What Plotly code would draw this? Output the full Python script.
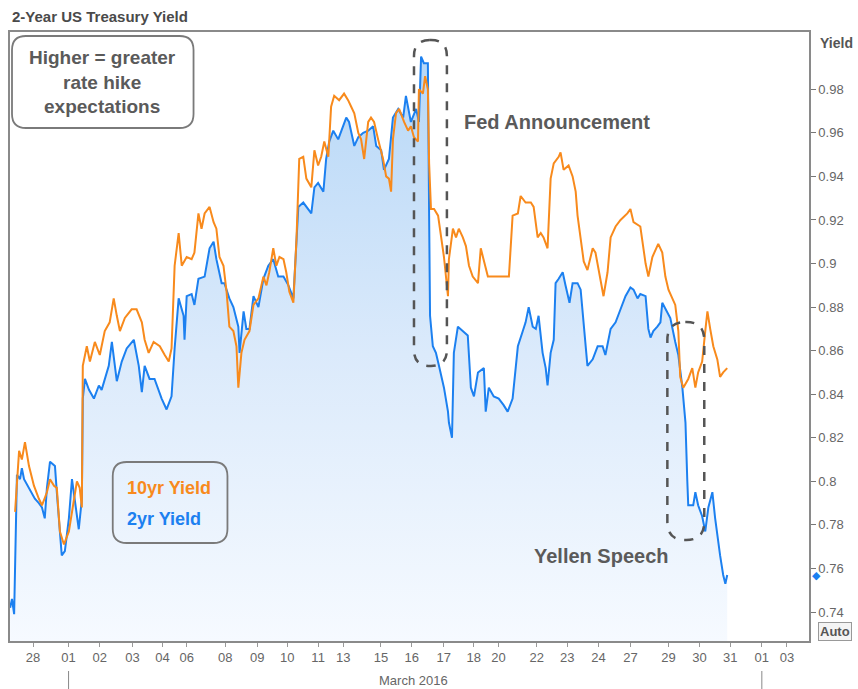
import plotly.graph_objects as go

# ---------------- data (x in trading-day units, 0 = 01 March 2016) ----------------
x_2yr = [-1.89, -1.83, -1.76, -1.67, -1.57, -1.51, -1.44, -1.28, -1.09, -0.96, -0.86, -0.77, -0.70, -0.60, -0.44,
         -0.38, -0.28, -0.22, -0.12, 0.01, 0.11, 0.20, 0.33, 0.43, 0.46, 0.53, 0.66, 0.82, 0.98, 1.07, 1.30, 1.40,
         1.56, 1.72, 1.88, 2.11, 2.27, 2.37, 2.46, 2.62, 2.78, 3.01, 3.17, 3.33, 3.43, 3.56, 3.72, 3.75, 3.82, 3.98,
         4.07, 4.20, 4.40, 4.56, 4.69, 4.78, 4.95, 5.04, 5.20, 5.33, 5.49, 5.53, 5.66, 5.75, 5.85, 5.98, 6.14, 6.30,
         6.46, 6.62, 6.78, 6.95, 7.11, 7.27, 7.37, 7.43, 7.59, 7.69, 7.85, 7.95, 8.07, 8.24, 8.33, 8.43, 8.56, 8.72,
         8.88, 8.98, 9.07, 9.24, 9.37, 9.53, 9.69, 9.85, 9.95, 10.11, 10.20, 10.36, 10.49, 10.66, 10.82, 10.91, 11.07,
         11.24, 11.33, 11.40, 11.49, 11.62, 11.66, 11.69, 11.78, 11.88, 11.98, 12.14, 12.27, 12.30, 12.40, 12.46,
         12.59, 12.75, 12.91, 13.01, 13.11, 13.24, 13.43, 13.49, 13.59, 13.75, 13.91, 14.07, 14.20, 14.36, 14.53,
         14.69, 14.78, 14.88, 15.01, 15.11, 15.20, 15.33, 15.43, 15.49, 15.59, 15.69, 15.75, 15.85, 15.98, 16.07,
         16.20, 16.30, 16.46, 16.56, 16.66, 16.78, 16.95, 17.11, 17.27, 17.36, 17.53, 17.69, 17.85, 18.01, 18.17,
         18.27, 18.40, 18.49, 18.66, 18.75, 18.82, 18.91, 19.04, 19.14, 19.20, 19.30, 19.46, 19.62, 19.72, 19.85,
         19.95, 20.01, 20.04, 20.20, 20.27, 20.36, 20.49, 20.59, 20.69, 20.82, 20.91, 21.07, 21.17, 21.24, 21.30]
y_2yr = [0.742, 0.746, 0.739, 0.803, 0.801, 0.806, 0.801, 0.797, 0.792, 0.790, 0.788, 0.783, 0.797, 0.809, 0.807,
         0.795, 0.778, 0.766, 0.768, 0.783, 0.801, 0.792, 0.778, 0.792, 0.838, 0.847, 0.842, 0.838, 0.844, 0.842,
         0.853, 0.864, 0.846, 0.855, 0.861, 0.865, 0.853, 0.841, 0.853, 0.847, 0.847, 0.838, 0.833, 0.839, 0.861,
         0.884, 0.876, 0.865, 0.885, 0.886, 0.881, 0.893, 0.894, 0.907, 0.910, 0.902, 0.891, 0.891, 0.884, 0.880,
         0.871, 0.859, 0.878, 0.870, 0.870, 0.885, 0.880, 0.893, 0.899, 0.902, 0.894, 0.894, 0.890, 0.884, 0.908,
         0.926, 0.928, 0.926, 0.923, 0.935, 0.937, 0.933, 0.948, 0.956, 0.961, 0.957, 0.963, 0.967, 0.965, 0.954,
         0.958, 0.960, 0.961, 0.963, 0.954, 0.952, 0.943, 0.948, 0.967, 0.971, 0.967, 0.977, 0.965, 0.971, 0.965,
         0.995, 0.992, 0.992, 0.922, 0.876, 0.862, 0.859, 0.853, 0.843, 0.832, 0.827, 0.820, 0.859, 0.871, 0.869,
         0.867, 0.843, 0.839, 0.850, 0.852, 0.832, 0.843, 0.839, 0.838, 0.835, 0.832, 0.838, 0.862, 0.869, 0.873,
         0.880, 0.871, 0.870, 0.876, 0.859, 0.852, 0.844, 0.859, 0.865, 0.891, 0.893, 0.896, 0.890, 0.882, 0.891,
         0.891, 0.888, 0.871, 0.853, 0.856, 0.862, 0.862, 0.858, 0.870, 0.873, 0.879, 0.885, 0.889, 0.888, 0.884,
         0.886, 0.885, 0.870, 0.866, 0.869, 0.871, 0.873, 0.882, 0.879, 0.875, 0.864, 0.858, 0.843, 0.827, 0.800,
         0.789, 0.789, 0.795, 0.789, 0.784, 0.777, 0.788, 0.795, 0.783, 0.766, 0.757, 0.753, 0.757]

x_10yr = [-1.73, -1.60, -1.51, -1.41, -1.28, -1.12, -0.96, -0.86, -0.70, -0.60, -0.47, -0.38, -0.28, -0.15, 0.01,
          0.17, 0.27, 0.36, 0.43, 0.46, 0.59, 0.69, 0.85, 1.01, 1.17, 1.33, 1.46, 1.56, 1.66, 1.82, 2.04, 2.20,
          2.37, 2.46, 2.59, 2.75, 2.95, 3.11, 3.24, 3.33, 3.43, 3.56, 3.66, 3.82, 3.98, 4.07, 4.20, 4.30, 4.40, 4.56,
          4.69, 4.78, 4.88, 5.01, 5.11, 5.20, 5.33, 5.43, 5.49, 5.59, 5.69, 5.85, 5.98, 6.14, 6.30, 6.40, 6.49, 6.62,
          6.72, 6.82, 6.95, 7.04, 7.14, 7.27, 7.37, 7.46, 7.59, 7.69, 7.85, 7.95, 8.07, 8.17, 8.27, 8.40, 8.49, 8.59,
          8.75, 8.91, 9.04, 9.14, 9.24, 9.37, 9.46, 9.56, 9.69, 9.78, 9.88, 10.01, 10.17, 10.27, 10.36, 10.43, 10.49,
          10.59, 10.69, 10.85, 10.98, 11.07, 11.17, 11.30, 11.33, 11.46, 11.53, 11.62, 11.66, 11.72, 11.82, 11.95,
          12.04, 12.14, 12.27, 12.30, 12.43, 12.53, 12.62, 12.75, 12.85, 12.95, 13.07, 13.24, 13.33, 13.43, 13.56,
          13.72, 13.88, 14.07, 14.24, 14.36, 14.53, 14.62, 14.78, 14.95, 15.04, 15.17, 15.27, 15.36, 15.49, 15.59,
          15.69, 15.85, 15.91, 16.01, 16.17, 16.30, 16.40, 16.46, 16.56, 16.66, 16.78, 16.95, 17.04, 17.14, 17.30,
          17.43, 17.53, 17.69, 17.85, 18.07, 18.17, 18.27, 18.49, 18.66, 18.75, 18.88, 19.07, 19.20, 19.30, 19.40,
          19.53, 19.62, 19.72, 19.78, 19.88, 20.04, 20.17, 20.27, 20.36, 20.49, 20.59, 20.66, 20.75, 20.85, 20.98,
          21.07, 21.17, 21.30]
y_10yr = [0.786, 0.814, 0.810, 0.818, 0.807, 0.798, 0.792, 0.789, 0.795, 0.801, 0.798, 0.797, 0.777, 0.771, 0.777,
          0.792, 0.800, 0.797, 0.788, 0.853, 0.862, 0.855, 0.864, 0.858, 0.869, 0.873, 0.884, 0.876, 0.869, 0.875,
          0.879, 0.879, 0.873, 0.865, 0.859, 0.864, 0.862, 0.858, 0.855, 0.861, 0.899, 0.914, 0.899, 0.903, 0.902,
          0.905, 0.923, 0.916, 0.923, 0.926, 0.919, 0.916, 0.903, 0.899, 0.887, 0.871, 0.869, 0.862, 0.843, 0.859,
          0.865, 0.869, 0.881, 0.884, 0.894, 0.890, 0.896, 0.907, 0.899, 0.903, 0.902, 0.896, 0.887, 0.882, 0.911,
          0.948, 0.949, 0.939, 0.935, 0.952, 0.945, 0.949, 0.956, 0.949, 0.972, 0.977, 0.975, 0.978, 0.975, 0.972,
          0.969, 0.960, 0.957, 0.948, 0.965, 0.967, 0.965, 0.957, 0.948, 0.940, 0.939, 0.933, 0.957, 0.969, 0.971,
          0.965, 0.961, 0.963, 0.958, 0.956, 0.980, 0.978, 0.986, 0.980, 0.946, 0.925, 0.925, 0.922, 0.912, 0.903,
          0.885, 0.902, 0.916, 0.912, 0.916, 0.912, 0.908, 0.899, 0.894, 0.891, 0.907, 0.901, 0.894, 0.894, 0.894,
          0.894, 0.894, 0.922, 0.923, 0.931, 0.928, 0.928, 0.926, 0.912, 0.914, 0.912, 0.907, 0.939, 0.946, 0.949,
          0.951, 0.943, 0.945, 0.940, 0.933, 0.922, 0.912, 0.901, 0.897, 0.907, 0.905, 0.897, 0.885, 0.896, 0.912,
          0.917, 0.920, 0.923, 0.925, 0.919, 0.917, 0.900, 0.894, 0.903, 0.909, 0.905, 0.894, 0.888, 0.884, 0.881,
          0.869, 0.848, 0.843, 0.847, 0.852, 0.843, 0.850, 0.855, 0.869, 0.878, 0.870, 0.862, 0.856, 0.848, 0.850,
          0.852]

tick_labels = ['28', '01', '02', '03', '04', '06', '08', '09', '10', '11', '13', '15', '16', '17', '18', '20',
               '22', '23', '24', '27', '29', '30', '31', '01', '03']
tick_pos = [-1.15, 0.0, 1.01, 2.07, 3.04, 3.82, 5.07, 6.1, 7.07, 8.07, 8.88, 10.1, 11.1, 12.13, 13.1, 13.9,
            15.14, 16.13, 17.14, 18.17, 19.4, 20.4, 21.4, 22.42, 23.23]
month_starts = [0.0, 22.42]
y_ticks = [0.74, 0.76, 0.78, 0.80, 0.82, 0.84, 0.86, 0.88, 0.90, 0.92, 0.94, 0.96, 0.98]
y_tick_text = ['0.74', '0.76', '0.78', '0.8', '0.82', '0.84', '0.86', '0.88', '0.9', '0.92', '0.94', '0.96', '0.98']

X_RANGE = [-1.894, 23.945]
Y_RANGE = [0.7267, 1.0063]

# ---------------- layout helpers ----------------
W, H = 858, 689
ML, MR, MT, MB = 8, 49, 32, 48
PW, PH = W - ML - MR, H - MT - MB

def px(x):
    return (x - ML) / PW

def py(y):
    return (H - MB - y) / PH

def rrect(x0, y0, x1, y1, r, **kw):
    path = (f"M {px(x0+r)},{py(y0)} L {px(x1-r)},{py(y0)} Q {px(x1)},{py(y0)} {px(x1)},{py(y0+r)} "
            f"L {px(x1)},{py(y1-r)} Q {px(x1)},{py(y1)} {px(x1-r)},{py(y1)} "
            f"L {px(x0+r)},{py(y1)} Q {px(x0)},{py(y1)} {px(x0)},{py(y1-r)} "
            f"L {px(x0)},{py(y0+r)} Q {px(x0)},{py(y0)} {px(x0+r)},{py(y0)} Z")
    d = dict(type='path', path=path, xref='paper', yref='paper', layer='above')
    d.update(kw)
    return d

BLUE = '#1c80f0'
ORANGE = '#f88a1c'
GRAY = '#5a5a5a'
FONT = 'Liberation Sans, Arial, sans-serif'

fig = go.Figure()

fig.add_trace(go.Scatter(
    x=x_2yr, y=y_2yr, mode='lines', line=dict(color=BLUE, width=2),
    fill='tozeroy',
    fillgradient=dict(type='vertical', start=Y_RANGE[0], stop=0.99,
                      colorscale=[[0, 'rgba(246,250,255,1)'], [0.5, 'rgba(219,234,251,1)'],
                                  [1, 'rgba(184,216,247,1)']]),
    hoverinfo='skip', showlegend=False))

fig.add_trace(go.Scatter(
    x=x_10yr, y=y_10yr, mode='lines', line=dict(color=ORANGE, width=2),
    hoverinfo='skip', showlegend=False))

shapes = []
# dashed stadiums
shapes.append(rrect(413, 40, 446, 366, 16, line=dict(color='#555555', width=2.5, dash='dash')))
shapes.append(rrect(667, 322, 704, 540, 18, line=dict(color='#555555', width=2.5, dash='dash')))
# annotation boxes
shapes.append(rrect(10, 36, 192, 128, 14, line=dict(color='#7a7a7a', width=1.8), fillcolor='white'))
shapes.append(rrect(111, 462, 226, 543, 14, line=dict(color='#7a7a7a', width=1.8)))
# month separators below the axis
for m in month_starts:
    shapes.append(dict(type='line', xref='x', yref='paper', x0=m, x1=m, y0=py(671), y1=py(689),
                       line=dict(color='#888888', width=1)))

annotations = [
    dict(text='2-Year US Treasury Yield', x=0, y=py(16), xref='paper', yref='paper', xanchor='left',
         yanchor='middle', showarrow=False, font=dict(family=FONT, size=15, color='#4a4a4a', weight='bold')),
    dict(text='Higher = greater<br>rate hike<br>expectations', x=px(101), y=py(82), xref='paper', yref='paper',
         xanchor='center', yanchor='middle', showarrow=False, align='center',
         font=dict(family=FONT, size=19, color=GRAY, weight='bold')),
    dict(text='Fed Announcement', x=px(461), y=py(122), xref='paper', yref='paper', xanchor='left',
         yanchor='middle', showarrow=False, font=dict(family=FONT, size=20, color=GRAY, weight='bold')),
    dict(text='Yellen Speech', x=px(531), y=py(556), xref='paper', yref='paper', xanchor='left',
         yanchor='middle', showarrow=False, font=dict(family=FONT, size=20, color=GRAY, weight='bold')),
    dict(text='10yr Yield', x=px(123), y=py(488), xref='paper', yref='paper', xanchor='left',
         yanchor='middle', showarrow=False, font=dict(family=FONT, size=18, color=ORANGE, weight='bold')),
    dict(text='2yr Yield', x=px(123), y=py(519), xref='paper', yref='paper', xanchor='left',
         yanchor='middle', showarrow=False, font=dict(family=FONT, size=18, color=BLUE, weight='bold')),
    dict(text='Yield', x=px(818), y=py(43), xref='paper', yref='paper', xanchor='left',
         yanchor='middle', showarrow=False, font=dict(family=FONT, size=14, color='#555555', weight='bold')),
    dict(text='Auto', x=px(818), y=py(631), xref='paper', yref='paper', xanchor='left',
         yanchor='middle', showarrow=False, bordercolor='#999999', borderwidth=1, borderpad=1,
         bgcolor='#f4f4f4', font=dict(family=FONT, size=13, color='#555555', weight='bold')),
    dict(text='March 2016', x=11.17, y=py(680), xref='x', yref='paper', xanchor='center',
         yanchor='middle', showarrow=False, font=dict(family=FONT, size=13, color='#666666')),
    # last-value marker on the price axis
    dict(text='◆', x=1, y=y_2yr[-1], xref='paper', yref='y', xanchor='center', yanchor='middle',
         xshift=7, showarrow=False, font=dict(size=11, color=BLUE)),
]

fig.update_layout(
    width=W, height=H, autosize=False,
    margin=dict(l=ML, r=MR, t=MT, b=MB),
    paper_bgcolor='white', plot_bgcolor='white',
    font=dict(family=FONT, color='#666666'),
    xaxis=dict(range=X_RANGE, tickvals=tick_pos, ticktext=tick_labels, ticks='outside', ticklen=4,
               tickcolor='#999999', showline=True, linecolor='#8a8a8a', linewidth=1.5, mirror=True,
               showgrid=False, zeroline=False, tickfont=dict(size=13, color='#666666')),
    yaxis=dict(range=Y_RANGE, side='right', tickvals=y_ticks, ticktext=y_tick_text, ticks='outside',
               ticklen=5, tickcolor='#777777', showline=True, linecolor='#8a8a8a', linewidth=1.5,
               mirror=True, showgrid=False, zeroline=False, tickfont=dict(size=13, color='#666666')),
    shapes=shapes,
    annotations=annotations,
    showlegend=False,
)

fig.write_html('out.html', config={'displayModeBar': False},
               post_script="document.body.style.margin='0';")
